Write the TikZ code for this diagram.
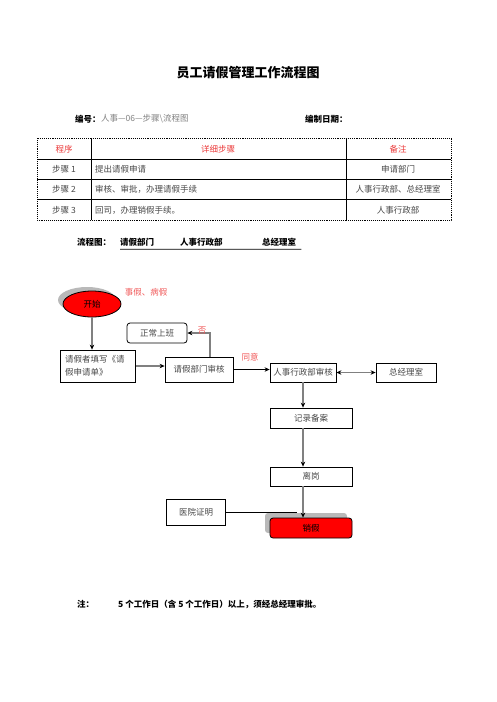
\documentclass[tikz,border=0pt]{standalone}
\usepackage{fontspec}
\setmainfont{Noto Sans CJK SC}
\usetikzlibrary{arrows.meta}
\usetikzlibrary{shapes.geometric}
\usetikzlibrary{shadows}
\definecolor{hdred}{RGB}{235,60,60}
\definecolor{lblred}{RGB}{240,90,90}
\definecolor{txtgray}{RGB}{70,70,70}

\begin{document}
\begin{tikzpicture}[x=1pt,y=-1pt,>={Stealth[black,length=5pt,width=4.5pt]},auto,
    flow box/.style={rectangle,draw,line width=0.8pt,inner sep=2pt,text=txtgray,font=\fontsize{8.5}{13}\selectfont},
    plain text/.style={inner sep=0pt,text=txtgray,font=\fontsize{8.5}{10}\selectfont},
    red label/.style={inner sep=0pt,text=lblred,font=\fontsize{8.5}{10}\selectfont},
    bold text/.style={inner sep=0pt,font=\bfseries\fontsize{8.5}{10}\selectfont},
    gray arrow/.style={->,draw=gray,line width=1.6pt},
    thin arrow/.style={->,line width=0.8pt}]
  \useasboundingbox (0,0) rectangle (496,702);
  % heading
  \node[inner sep=0pt,font=\bfseries\fontsize{13}{15}\selectfont] (title) at (248,73) {员工请假管理工作流程图};
  \node[bold text,anchor=west] (numlbl) at (75,119) {编号：};
  \node[plain text,anchor=west,text=gray] (numval) at (numlbl.east) {人事—06—步骤\textbackslash 流程图};
  \node[bold text,anchor=west] (datelbl) at (305,119) {编制日期：};
  % table
  \draw[densely dotted,line width=0.9pt] (37,138) rectangle (451,220);
  \draw[line width=0.6pt] (37,159) -- (451,159);
  \draw[line width=0.6pt] (37,179) -- (451,179);
  \draw[line width=0.6pt] (37,199) -- (451,199);
  \draw[line width=0.6pt] (91,138) -- (91,220);
  \draw[line width=0.6pt] (346,138) -- (346,220);
  \node[red label,text=hdred] (h1) at (64,149) {程序};
  \node[red label,text=hdred] (h2) at (218,149) {详细步骤};
  \node[red label,text=hdred] (h3) at (398,149) {备注};
  \node[plain text] (s1) at (64,169) {步骤 1};
  \node[plain text,anchor=west] (d1) at (95,169) {提出请假申请};
  \node[plain text] (r1) at (398,169) {申请部门};
  \node[plain text] (s2) at (64,189) {步骤 2};
  \node[plain text,anchor=west] (d2) at (95,189) {审核、审批，办理请假手续};
  \node[plain text] (r2) at (398,189) {人事行政部、总经理室};
  \node[plain text] (s3) at (64,210) {步骤 3};
  \node[plain text,anchor=west] (d3) at (95,210) {回司，办理销假手续。};
  \node[plain text] (r3) at (398,210) {人事行政部};
  % flow chart header
  \node[bold text,anchor=west] (flowlbl) at (77,242) {流程图：};
  \node[bold text,anchor=west] (hdept) at (120,242) {请假部门};
  \node[bold text,anchor=west] (hhr) at (180,242) {人事行政部};
  \node[bold text,anchor=west] (hgm) at (262,242) {总经理室};
  \draw[line width=0.8pt] ([yshift=-3pt]hdept.south west) -- ([xshift=5pt,yshift=-3pt]hgm.south east);
  % flow chart
  \node[ellipse,draw,fill=red,line width=0.8pt,minimum width=58pt,minimum height=26pt,inner sep=0pt,
    font=\fontsize{8.5}{10}\selectfont,
    drop shadow={shadow xshift=-5pt,shadow yshift=4pt,fill=gray!55,opacity=1}] (start) at (92,304) {开始};
  \node[red label] (kind) at (146,292) {事假、病假};
  \node[flow box,minimum width=75pt,minimum height=32pt,text width=66pt,align=left] (apply) at (98,366) {请假者填写《请\\假申请单》};
  \node[flow box,minimum width=68pt,minimum height=25pt] (dept) at (199,369.5) {请假部门审核};
  \node[flow box,rounded corners=3pt,minimum width=60pt,minimum height=20pt] (normal) at (157,333) {正常上班};
  \node[flow box,minimum width=66pt,minimum height=19pt] (hr) at (303,372.5) {人事行政部审核};
  \node[flow box,minimum width=60pt,minimum height=19pt] (gm) at (406,372.5) {总经理室};
  \node[flow box,minimum width=82pt,minimum height=20pt] (record) at (311,418) {记录备案};
  \node[flow box,minimum width=82pt,minimum height=19pt] (leave) at (311,476.5) {离岗};
  \node[flow box,minimum width=59pt,minimum height=26pt] (hosp) at (196,512) {医院证明};
  \node[flow box,fill=red,text=black,rounded corners=3pt,minimum width=82pt,minimum height=20pt,
    drop shadow={shadow xshift=-5pt,shadow yshift=5pt,fill=gray!55,opacity=1}] (back) at (311,528) {销假};
  \draw[gray arrow] (start.south) -- (start.south |- apply.north);
  \draw[gray arrow] (apply.east) -- (dept.west |- apply.east);
  \draw[gray arrow] ([xshift=11pt]dept.north) |- (normal.east);
  \node[red label] (nolbl) at (202,331) {否};
  \draw[thin arrow] (dept.east) -- (hr.west |- dept.east);
  \node[red label] (oklbl) at (250,357) {同意};
  \draw[gray arrow,<->] (hr.east) -- (gm.west);
  \draw[gray arrow] (hr.south) -- (hr.south |- record.north);
  \draw[gray arrow] (hr.south |- record.south) -- (hr.south |- leave.north);
  \draw[gray arrow] (hr.south |- leave.south) -- (hr.south |- back.north);
  \draw[line width=0.8pt] (hosp.east) -- ([xshift=-6pt]hosp.east -| hr.south);
  % note
  \node[bold text,anchor=west] (notelbl) at (77,604) {注：};
  \node[bold text,anchor=west] (note) at (118,604) {5 个工作日（含 5 个工作日）以上，须经总经理审批。};
\end{tikzpicture}
\end{document}
